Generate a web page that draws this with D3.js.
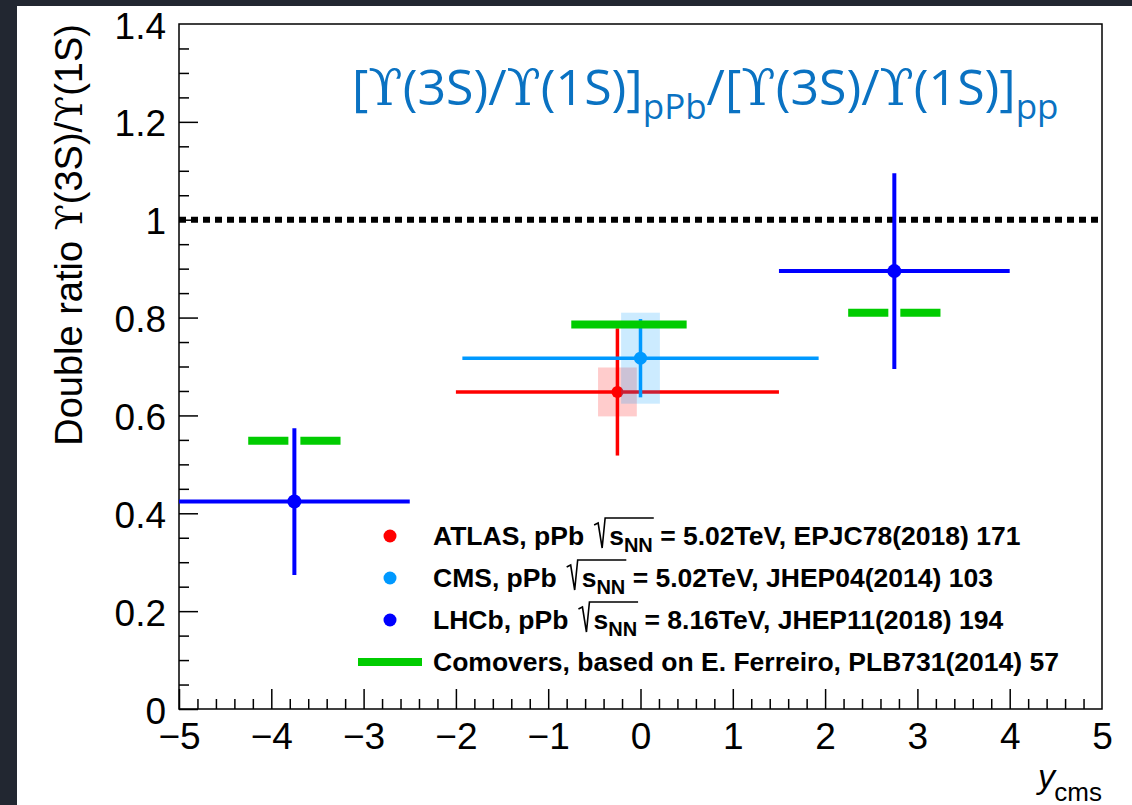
<!DOCTYPE html>
<html><head><meta charset="utf-8">
<script src="https://cdn.jsdelivr.net/npm/d3@7"></script>
<style>
html,body{margin:0;padding:0;background:#222731;}
svg{display:block;}
</style></head><body>
<svg id="chart" width="1132" height="805"></svg>
<script>
// LHCb pPb 8.16 TeV: rapidity bins and double ratio
const lhcbCenter = [-3.75, 2.75];
const lhcbLo = [-5.0, 1.5];
const lhcbHi = [-2.5, 4.0];
const lhcbVal = [0.424, 0.895];
const lhcbErr = [0.15, 0.2];

// ATLAS pPb 5.02 TeV
const atlasCenter = [-0.25];
const atlasLo = [-2.0];
const atlasHi = [1.5];
const atlasVal = [0.648];
const atlasErr = [0.13];
const atlasSysX = [0.21];
const atlasSysY = [0.05];

// CMS pPb 5.02 TeV
const cmsCenter = [0.0];
const cmsLo = [-1.93];
const cmsHi = [1.93];
const cmsVal = [0.717];
const cmsErr = [0.08];
const cmsSysX = [0.21];
const cmsSysY = [0.093];

// Comover model predictions
const comoversLo = [-4.25, -0.75, 2.25];
const comoversHi = [-3.25, 0.5, 3.25];
const comoversVal = [0.548, 0.786, 0.81];

const refLevel = 1;
const xMajorTicks = [-5, -4, -3, -2, -1, 0, 1, 2, 3, 4, 5];
const yMajorTicks = [0, 0.2, 0.4, 0.6, 0.8, 1.0, 1.2, 1.4];

const legendExperiments = ["ATLAS", "CMS", "LHCb"];
const legendEnergies = ["5.02TeV", "5.02TeV", "8.16TeV"];
const legendRefs = ["EPJC78(2018) 171", "JHEP04(2014) 103", "JHEP11(2018) 194"];
const legendModel = "Comovers, based on E. Ferreiro, PLB731(2014) 57";

const RED = "#ff0000", SKY = "#0099ff", BLUE = "#0000ff", GREEN = "#00cc00";
const SANS = "'Liberation Sans', Arial, sans-serif";
const SERIF = "'DejaVu Serif', 'Liberation Serif', serif";
const LEG_FS = 26.5;

const svg = d3.select("#chart");
svg.append("rect").attr("x", 17).attr("y", 6).attr("width", 1115).attr("height", 799).attr("fill", "#fff");

const x = d3.scaleLinear().domain([-5, 5]).range([179, 1102]);
const y = d3.scaleLinear().domain([0, 1.4]).range([709, 24]);

const round = v => Math.round(v * 1000) / 1000;
const xMinor = d3.range(-5, 5.0001, 0.2).map(round).filter(v => !xMajorTicks.some(t => Math.abs(t - v) < 1e-6));
const yMinor = d3.range(0, 1.4001, 0.05).map(round).filter(v => !yMajorTicks.some(t => Math.abs(t - v) < 1e-6));

// axes with inward ticks
const gx = svg.append("g").attr("transform", `translate(0,${y(0)})`)
  .call(d3.axisBottom(x).tickValues(xMajorTicks).tickSize(-20).tickPadding(14).tickFormat(d3.format("d")));
const gxm = svg.append("g").attr("transform", `translate(0,${y(0)})`)
  .call(d3.axisBottom(x).tickValues(xMinor).tickSize(-10).tickFormat(""));
const gy = svg.append("g").attr("transform", `translate(${x(-5)},0)`)
  .call(d3.axisLeft(y).tickValues(yMajorTicks).tickSize(-19).tickPadding(13).tickFormat(d => String(+d.toFixed(1))));
const gym = svg.append("g").attr("transform", `translate(${x(-5)},0)`)
  .call(d3.axisLeft(y).tickValues(yMinor).tickSize(-10).tickFormat(""));
[gx, gxm, gy, gym].forEach(g => {
  g.select(".domain").remove();
  g.selectAll(".tick line").attr("stroke", "#000").attr("stroke-width", 1.5);
  g.selectAll(".tick text").attr("font-family", SANS).attr("font-size", 37).attr("fill", "#000");
});
// drop the tick at the right frame edge
gx.selectAll(".tick").filter(d => d === 5).select("line").remove();
gy.selectAll(".tick").filter(d => d === 1.4).select("line").remove();
gy.selectAll(".tick text").attr("dy", "0.38em");
gx.selectAll(".tick text").attr("dy", "0.71em");

svg.append("rect").attr("x", x(-5)).attr("y", y(1.4))
  .attr("width", x(5) - x(-5)).attr("height", y(0) - y(1.4))
  .attr("fill", "none").attr("stroke", "#000").attr("stroke-width", 1.5);

// axis titles
const yTitle = svg.append("text")
  .attr("transform", `translate(82,${y(1.4)}) rotate(-90)`)
  .attr("text-anchor", "end").attr("font-family", SANS).attr("font-size", 38).attr("fill", "#000");
yTitle.append("tspan").text("Double ratio ");
yTitle.append("tspan").attr("font-family", SERIF).text("ϒ");
yTitle.append("tspan").text("(3S)/");
yTitle.append("tspan").attr("font-family", SERIF).text("ϒ");
yTitle.append("tspan").text("(1S)");

svg.append("text").attr("x", 1102).attr("y", 801).attr("text-anchor", "end")
  .attr("font-family", SANS).attr("font-size", 26).text("cms");
svg.append("text").attr("x", 1055).attr("y", 788).attr("text-anchor", "end")
  .attr("font-family", SANS).attr("font-style", "italic").attr("font-size", 34).text("y");

// title
const title = svg.append("text").attr("x", 352).attr("y", 105)
  .attr("font-family", "'Open Sans', sans-serif").attr("font-size", 50).attr("fill", "#0a72c2");
function ratioSpans(t) {
  t.append("tspan").text("[");
  t.append("tspan").attr("font-family", SERIF).text("ϒ");
  t.append("tspan").text("(3S)/");
  t.append("tspan").attr("font-family", SERIF).text("ϒ");
  t.append("tspan").text("(1S)]");
}
ratioSpans(title);
title.append("tspan").attr("font-size", 35).attr("dy", 14).text("pPb");
title.append("tspan").attr("dy", -14).text("/");
ratioSpans(title);
title.append("tspan").attr("font-size", 35).attr("dy", 14).text("pp");

// reference line at unity
svg.append("line").attr("x1", x(-5)).attr("x2", x(5)).attr("y1", y(refLevel)).attr("y2", y(refLevel))
  .attr("stroke", "#000").attr("stroke-width", 6).attr("stroke-dasharray", "7 5");

const plot = svg.append("g");

function errorCross(center, lo, hi, val, err, color, width, r) {
  center.forEach((c, i) => {
    plot.append("line").attr("x1", x(lo[i])).attr("x2", x(hi[i])).attr("y1", y(val[i])).attr("y2", y(val[i]))
      .attr("stroke", color).attr("stroke-width", width);
    plot.append("line").attr("x1", x(c)).attr("x2", x(c)).attr("y1", y(val[i] - err[i])).attr("y2", y(val[i] + err[i]))
      .attr("stroke", color).attr("stroke-width", width);
    plot.append("circle").attr("cx", x(c)).attr("cy", y(val[i])).attr("r", r).attr("fill", color);
  });
}
function sysBoxes(center, val, sx, sy, color) {
  center.forEach((c, i) => {
    plot.append("rect").attr("x", x(c - sx[i])).attr("y", y(val[i] + sy[i]))
      .attr("width", x(c + sx[i]) - x(c - sx[i])).attr("height", y(val[i] - sy[i]) - y(val[i] + sy[i]))
      .attr("fill", color).attr("fill-opacity", 0.2);
  });
}

errorCross(atlasCenter, atlasLo, atlasHi, atlasVal, atlasErr, RED, 3.5, 6);
sysBoxes(atlasCenter, atlasVal, atlasSysX, atlasSysY, RED);
sysBoxes(cmsCenter, cmsVal, cmsSysX, cmsSysY, SKY);
errorCross(cmsCenter, cmsLo, cmsHi, cmsVal, cmsErr, SKY, 3.5, 6.5);

// comover bands; those at LHCb rapidities leave a gap around the bin centre
comoversLo.forEach((lo, i) => {
  const hi = comoversHi[i], c = (lo + hi) / 2, yy = y(comoversVal[i]);
  const gapped = lhcbCenter.some(v => Math.abs(v - c) < 1e-6);
  const segs = gapped ? [[x(lo), x(c) - 6], [x(c) + 6, x(hi)]] : [[x(lo), x(hi)]];
  segs.forEach(s => plot.append("line").attr("x1", s[0]).attr("x2", s[1]).attr("y1", yy).attr("y2", yy)
    .attr("stroke", GREEN).attr("stroke-width", 8));
});

errorCross(lhcbCenter, lhcbLo, lhcbHi, lhcbVal, lhcbErr, BLUE, 4, 7);

// legend
const legend = svg.append("g");
const rowY = [536, 578, 620, 662];
const legColors = [RED, SKY, BLUE];
legendExperiments.forEach((name, i) => {
  const cy = rowY[i], base = cy + 9;
  legend.append("circle").attr("cx", 390).attr("cy", cy).attr("r", 6.5).attr("fill", legColors[i]);
  const pre = legend.append("text").attr("x", 433).attr("y", base)
    .attr("font-family", SANS).attr("font-weight", "bold").attr("font-size", LEG_FS).text(name + ", pPb");
  const w = pre.node().getComputedTextLength();
  const rx = 433 + w + 10;
  const sx = rx + 15;
  const t = legend.append("text").attr("x", sx).attr("y", base)
    .attr("font-family", SANS).attr("font-weight", "bold").attr("font-size", LEG_FS);
  const s1 = t.append("tspan").text("s");
  const s2 = t.append("tspan").attr("font-size", 20).attr("dy", 7).text("NN");
  t.append("tspan").attr("dy", -7).text(" = " + legendEnergies[i] + ", " + legendRefs[i]);
  const overEnd = sx + s1.node().getComputedTextLength() + s2.node().getComputedTextLength() + 1;
  legend.append("path")
    .attr("d", `M${rx},${base - 20} L${rx + 4},${base - 22} L${rx + 8},${base + 3} L${rx + 11},${base - 27} L${overEnd},${base - 27}`)
    .attr("fill", "none").attr("stroke", "#000").attr("stroke-width", 1.6).attr("stroke-linejoin", "miter");
});
legend.append("line").attr("x1", 358).attr("x2", 422).attr("y1", rowY[3]).attr("y2", rowY[3])
  .attr("stroke", GREEN).attr("stroke-width", 8);
legend.append("text").attr("x", 433).attr("y", rowY[3] + 9)
  .attr("font-family", SANS).attr("font-weight", "bold").attr("font-size", LEG_FS).text(legendModel);
</script>
</body></html>
